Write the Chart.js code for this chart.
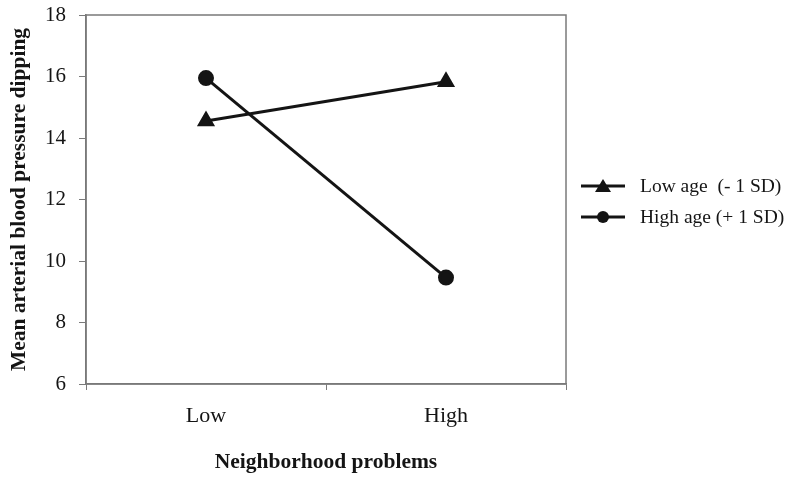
<!DOCTYPE html>
<html lang="en">
<head>
  <meta charset="UTF-8">
  <title>Mean arterial blood pressure dipping</title>
  <script src="https://cdn.jsdelivr.net/npm/chart.js"></script>
  <style>
    html, body { margin: 0; padding: 0; background: #fff; }
    #wrap { width: 788px; height: 477px; }
  </style>
</head>
<body>
  <div id="wrap"><canvas id="chart" width="788" height="477"></canvas></div>
  <script>
    const categories = ['Low', 'High'];
    const lowAge = [14.55, 15.83];
    const highAge = [15.95, 9.46];
    const seriesLabels = ['Low age  (- 1 SD)', 'High age (+ 1 SD)'];
    const yTicks = [6, 8, 10, 12, 14, 16, 18];

    const serif = '"Liberation Serif", "Times New Roman", serif';
    const ink = '#141414';
    const axisGray = '#7a7a7a';

    // plot box + legend drawn by hand, like the original figure
    const boxAndLegend = {
      id: 'boxAndLegend',
      beforeDatasetsDraw(chart) {
        const { ctx, chartArea: a } = chart;
        ctx.save();
        ctx.strokeStyle = axisGray;
        ctx.lineWidth = 1.5;
        ctx.strokeRect(a.left, a.top, a.right - a.left, a.bottom - a.top);
        ctx.restore();
      },
      afterDraw(chart) {
        const ctx = chart.ctx;
        ctx.save();
        chart.data.datasets.forEach((ds, i) => {
          const y = 186 + i * 31;
          ctx.strokeStyle = ink;
          ctx.lineWidth = 3;
          ctx.beginPath();
          ctx.moveTo(581, y);
          ctx.lineTo(625, y);
          ctx.stroke();
          ctx.fillStyle = ink;
          ctx.beginPath();
          if (ds.pointStyle === 'triangle') {
            ctx.moveTo(603, y - 7);
            ctx.lineTo(611, y + 6);
            ctx.lineTo(595, y + 6);
            ctx.closePath();
          } else {
            ctx.arc(603, y, 6, 0, Math.PI * 2);
          }
          ctx.fill();
          ctx.font = '19.5px ' + serif;
          ctx.textBaseline = 'middle';
          ctx.fillText(ds.label, 640, y + 1);
        });
        ctx.restore();
      }
    };

    new Chart(document.getElementById('chart'), {
      type: 'line',
      data: {
        labels: categories,
        datasets: [
          {
            label: seriesLabels[0],
            data: lowAge,
            borderColor: ink,
            backgroundColor: ink,
            borderWidth: 3,
            pointStyle: 'triangle',
            pointRadius: 7.5,
            pointHoverRadius: 7.5
          },
          {
            label: seriesLabels[1],
            data: highAge,
            borderColor: ink,
            backgroundColor: ink,
            borderWidth: 3,
            pointStyle: 'circle',
            pointRadius: 6.5,
            pointHoverRadius: 6.5
          }
        ]
      },
      options: {
        responsive: false,
        animation: false,
        layout: { padding: { top: 15, right: 222, left: 0, bottom: 0 } },
        plugins: { legend: { display: false }, tooltip: { enabled: false } },
        scales: {
          x: {
            offset: true,
            grid: { offset: true, drawOnChartArea: false, tickLength: 6, color: axisGray, lineWidth: 1 },
            border: { color: axisGray, width: 1.5 },
            ticks: { color: ink, font: { family: serif, size: 22 }, padding: 13 },
            title: {
              display: true,
              text: 'Neighborhood problems',
              color: ink,
              font: { family: serif, size: 21.5, weight: 'bold' },
              padding: { top: 10, bottom: 2 }
            },
            afterFit(scale) { scale.height = 93; scale.paddingLeft = 0; scale.paddingRight = 0; }
          },
          y: {
            min: 6,
            max: 18,
            afterBuildTicks(scale) { scale.ticks = yTicks.map(v => ({ value: v })); },
            grid: { drawOnChartArea: false, tickLength: 7, color: axisGray, lineWidth: 1 },
            border: { color: axisGray, width: 1.5 },
            ticks: { color: ink, font: { family: serif, size: 21 }, padding: 13 },
            title: {
              display: true,
              text: 'Mean arterial blood pressure dipping',
              color: ink,
              font: { family: serif, size: 21.5, weight: 'bold' },
              padding: { top: 7, bottom: 0 }
            },
            afterFit(scale) { scale.width = 86; scale.paddingTop = 0; scale.paddingBottom = 0; }
          }
        }
      },
      plugins: [boxAndLegend]
    });
  </script>
</body>
</html>
